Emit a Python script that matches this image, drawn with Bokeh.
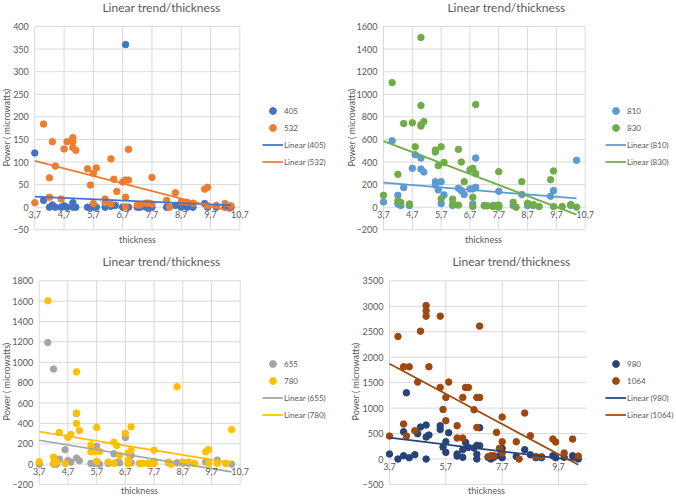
import math
import numpy as np
from bokeh.plotting import figure
from bokeh.layouts import gridplot
from bokeh.models import FixedTicker, CustomJSTickFormatter, Legend, LegendItem, Range1d, Label
from bokeh.embed import file_html
from bokeh.resources import INLINE

FONT = "Lato"
TXT = "#595959"
GRID = "#D9D9D9"

# ---- data ----
x405 = [3.7, 4.0, 4.2, 4.3, 4.4, 4.6, 4.7, 4.8, 5.0, 5.0, 5.1, 5.5, 5.6, 5.7, 5.8, 6.1, 6.3, 6.45, 6.8, 6.7,
        6.9, 7.2, 7.3, 7.5, 7.6, 7.7, 8.2, 8.5, 8.7, 8.9, 9.1, 9.5, 9.6, 9.9, 10.2, 10.4]
y405 = [120, 15, 0, 5, 0, 0, 3, 0, 10, 0, 0, 0, 0, 0, 0, 0, 2, 4, 360, 0,
        0, 0, 0, 0, 0, 0, 0, 4, 0, 0, 0, 8, 0, 0, 0, 0]
x532 = [3.7, 4.0, 4.2, 4.2, 4.3, 4.4, 4.6, 4.7, 4.8, 5.0, 5.0, 5.0, 5.1, 5.5, 5.6, 5.7, 5.7, 5.8, 6.1, 6.1,
        6.3, 6.3, 6.4, 6.5, 6.7, 6.8, 6.9, 6.8, 6.9, 6.8, 7.2, 7.3, 7.5, 7.6, 7.7, 7.7, 8.2, 8.3, 8.5, 8.7,
        8.9, 9.1, 9.5, 9.6, 9.6, 9.9, 10.2, 10.4]
y532 = [10, 184, 65, 22, 145, 91, 18, 129, 145, 154, 145, 132, 126, 85, 49, 75, 8, 87, 18, 10,
        107, 7, 62, 35, 56, 60, 60, 22, 128, 1, 5, 5, 9, 9, 66, 7, 15, 0, 32, 12,
        11, 9, 40, 44, 3, 4, 8, 3]

x810 = [3.7, 4.0, 4.2, 4.2, 4.3, 4.4, 4.6, 4.7, 4.8, 5.0, 5.0, 5.1, 5.5, 5.5, 5.6, 5.7, 5.7, 5.8, 6.1, 6.3,
        6.4, 6.5, 6.7, 6.8, 6.9, 6.9, 6.8, 7.2, 7.5, 7.7, 7.7, 8.2, 8.5, 8.7, 8.9, 9.5, 9.6, 10.2, 10.4]
y810 = [47, 588, 106, 29, 15, 174, 15, 344, 465, 435, 338, 312, 226, 197, 153, 226, 32, 109, 15, 168,
        147, 112, 162, 162, 176, 435, 29, 15, 15, 141, 15, 15, 112, 15, 15, 97, 147, 15, 415]
x830 = [3.7, 4.0, 4.2, 4.2, 4.3, 4.4, 4.6, 4.7, 4.8, 5.0, 5.0, 5.0, 5.0, 5.1, 5.5, 5.5, 5.6, 5.7, 5.7, 5.8,
        6.1, 6.1, 6.3, 6.3, 6.4, 6.5, 6.7, 6.8, 6.8, 6.8, 6.9, 6.9, 7.2, 7.3, 7.5, 7.6, 7.7, 7.7, 7.7, 8.2,
        8.3, 8.5, 8.7, 8.9, 9.1, 9.5, 9.6, 9.6, 9.9, 10.2, 10.4]
y830 = [106, 1103, 291, 56, 41, 741, 29, 747, 535, 1503, 900, 718, 730, 759, 506, 488, 368, 535, 74, 397,
        71, 29, 512, 18, 400, 226, 332, 344, 88, 6, 909, 297, 12, 12, 6, 12, 18, 315, 0, 44,
        0, 226, 35, 24, 6, 244, 321, 6, 6, 24, 0]

x655 = [3.7, 4.0, 4.2, 4.2, 4.3, 4.4, 4.6, 4.7, 4.8, 5.0, 5.0, 5.1, 5.5, 5.6, 5.7, 5.7, 5.8, 6.1, 6.3, 6.4,
        6.5, 6.7, 6.8, 6.9, 6.9, 7.2, 7.5, 7.7, 8.2, 8.5, 8.7, 8.9, 9.1, 9.5, 9.6, 9.9, 10.2, 10.4]
y655 = [0, 1194, 933, 0, 0, 49, 141, 36, 20, 59, 497, 33, 7, 7, 173, 13, 0, 7, 101, 16,
        13, 262, 13, 85, 13, 7, 7, 26, 13, 13, 7, 7, 7, 20, 20, 39, 7, 0]
x780 = [3.7, 4.0, 4.2, 4.2, 4.3, 4.4, 4.6, 4.7, 4.8, 5.0, 5.0, 5.0, 5.1, 5.5, 5.5, 5.6, 5.7, 5.7, 5.8, 6.1,
        6.3, 6.3, 6.4, 6.5, 6.7, 6.8, 6.8, 6.8, 6.9, 6.9, 7.2, 7.3, 7.5, 7.6, 7.7, 7.7, 8.2, 8.3, 8.5, 8.7,
        8.9, 9.1, 9.5, 9.6, 9.6, 9.9, 10.2, 10.4]
y780 = [23, 1603, 69, 7, 20, 311, 7, 262, 291, 906, 501, 399, 330, 187, 121, 121, 360, 29, 124, 20,
        216, 7, 183, 85, 304, 105, 36, 7, 366, 137, 7, 7, 7, 7, 137, 7, 20, 0, 759, 20,
        20, 7, 121, 144, 7, 7, 7, 340]

x980 = [3.7, 4.0, 4.2, 4.2, 4.3, 4.4, 4.6, 4.7, 4.8, 5.0, 5.0, 5.0, 5.1, 5.5, 5.5, 5.6, 5.7, 5.7, 5.8, 6.1,
        6.1, 6.3, 6.3, 6.4, 6.5, 6.7, 6.8, 6.8, 6.8, 6.9, 6.9, 7.2, 7.3, 7.4, 7.6, 7.7, 7.7, 8.2, 8.5, 8.7,
        8.9, 9.1, 9.5, 9.6, 9.9, 10.2, 10.4]
y980 = [98, 0, 65, 536, 1301, 26, 85, 497, 628, 667, 432, 0, 471, 654, 582, 235, 340, 131, 517, 98,
        59, 33, 183, 327, 229, 216, 268, 92, 0, 262, 615, 33, 0, 33, 65, 209, 26, 52, 183, 85,
        26, 26, 65, 26, 33, 65, 0]
x1064 = [3.7, 4.0, 4.2, 4.2, 4.3, 4.4, 4.6, 4.7, 4.8, 5.0, 5.0, 5.0, 5.1, 5.5, 5.5, 5.6, 5.7, 5.7, 5.8, 6.1,
         6.1, 6.3, 6.3, 6.4, 6.5, 6.7, 6.8, 6.8, 6.9, 6.9, 7.2, 7.3, 7.4, 7.5, 7.6, 7.7, 7.7, 7.7, 8.2, 8.3,
         8.5, 8.7, 8.9, 9.1, 9.5, 9.6, 9.9, 10.2, 10.4]
y1064 = [451, 2407, 687, 1812, 451, 1812, 556, 1511, 2511, 3015, 2910, 2806, 1812, 2806, 1406, 974, 1210, 752, 1511, 654,
         412, 1210, 412, 1406, 1406, 968, 1210, 621, 2610, 1210, 46, 65, 65, 523, 209, 824, 340, 118, 340, 0,
         903, 458, 46, 46, 392, 333, 118, 392, 59]

x_ticks = [3.7, 4.7, 5.7, 6.7, 7.7, 8.7, 9.7, 10.7]
x_ticks_wide = [3.7, 5.7, 7.7, 9.7]
X0, X1 = 3.7, 10.7
y_ticks1 = [-50, 0, 50, 100, 150, 200, 250, 300, 350, 400]
y_ticks2 = [-200, 0, 200, 400, 600, 800, 1000, 1200, 1400, 1600]
y_ticks3 = [-200, 0, 200, 400, 600, 800, 1000, 1200, 1400, 1600, 1800]
y_ticks4 = [-500, 0, 500, 1000, 1500, 2000, 2500, 3000, 3500]

W, H = 338, 248


def panel(series, y_ticks, xt, box, title_at, ylab_at, xlab_at, leg_at):
    # box: pixel position of x=3.7, x=10.7, top tick and bottom tick inside the panel
    x_lo, x_hi, y_top, y_bot = box
    sx = (x_hi - x_lo) / (X1 - X0)
    sy = (y_bot - y_top) / (y_ticks[-1] - y_ticks[0])
    fx = lambda px: X0 + (px - x_lo) / sx
    fy = lambda py: y_ticks[0] + (y_bot - py) / sy

    p = figure(width=W, height=H, output_backend="svg", toolbar_location=None,
               x_range=Range1d(fx(0), fx(W)), y_range=Range1d(fy(H), fy(0)), min_border=0)
    p.outline_line_color = None
    p.grid.visible = False

    # Excel-like grid, only over the plot area
    p.segment(x0=[X0] * len(y_ticks), y0=y_ticks, x1=[X1] * len(y_ticks), y1=y_ticks,
              line_color=GRID, line_width=1)
    p.segment(x0=xt, y0=[y_ticks[0]] * len(xt), x1=xt, y1=[y_ticks[-1]] * len(xt),
              line_color=GRID, line_width=1)

    p.xaxis.fixed_location = 0
    p.xaxis.ticker = FixedTicker(ticks=xt)
    p.xaxis.formatter = CustomJSTickFormatter(code="return tick.toFixed(1).replace('.', ',')")
    p.xaxis.major_label_standoff = 4
    p.yaxis.fixed_location = X0
    p.yaxis.ticker = FixedTicker(ticks=y_ticks)
    p.yaxis.major_label_standoff = 6
    for ax in (p.xaxis, p.yaxis):
        ax.axis_line_color = None
        ax.major_tick_line_color = None
        ax.minor_tick_line_color = None
        ax.major_tick_out = 0
        ax.major_tick_in = 0
        ax.major_label_text_font = FONT
        ax.major_label_text_font_size = "9px"
        ax.major_label_text_color = TXT

    p.add_layout(Label(x=fx(title_at[0]), y=fy(title_at[1]), text="Linear trend/thickness",
                       text_font=FONT, text_font_size="12px", text_font_style="normal", text_color=TXT,
                       text_align="center", text_baseline="middle"))
    p.add_layout(Label(x=fx(ylab_at[0]), y=fy(ylab_at[1]), text="Power ( microwatts)", angle=math.pi / 2,
                       text_font=FONT, text_font_size="9px", text_font_style="normal", text_color=TXT,
                       text_align="center", text_baseline="middle"))
    p.add_layout(Label(x=fx(xlab_at[0]), y=fy(xlab_at[1]), text="thickness",
                       text_font=FONT, text_font_size="9px", text_font_style="normal", text_color=TXT,
                       text_align="center", text_baseline="middle"))

    dots, lines = [], []
    for name, xs, ys, color in series:
        dots.append((name, p.scatter(xs, ys, size=6.5, color=color)))
    for name, xs, ys, color in series:
        k, b = np.polyfit(xs, ys, 1)
        xe = [min(xs), max(xs)]
        lines.append(("Linear (%s)" % name, p.line(xe, [k * v + b for v in xe], line_width=1.75, color=color)))

    legend = Legend(items=[LegendItem(label=n, renderers=[r]) for n, r in dots + lines],
                    location=(leg_at[0], H - leg_at[1]), border_line_color=None, background_fill_alpha=0,
                    padding=0, margin=0, spacing=0, glyph_height=17, label_height=17, glyph_width=21,
                    label_standoff=1, label_text_font=FONT, label_text_font_size="8px",
                    label_text_color=TXT)
    p.add_layout(legend)
    return p


p1 = panel([("405", x405, y405, "#4472C4"), ("532", x532, y532, "#ED7D31")], y_ticks1, x_ticks,
           (34.3, 239.3, 26, 229.3), (161, 7), (5.5, 127), (137, 239), (262, 170))
p2 = panel([("810", x810, y810, "#5B9BD5"), ("830", x830, y830, "#70AD47")], y_ticks2, x_ticks,
           (45, 246.7, 26, 229.3), (168, 7), (13, 127), (145, 239), (267, 170))
p3 = panel([("655", x655, y655, "#A5A5A5"), ("780", x780, y780, "#FFC000")], y_ticks3, x_ticks,
           (38.7, 239.7, 32.3, 236), (161, 12.5), (5.5, 133), (139, 242), (262, 175))
p4 = panel([("980", x980, y980, "#264478"), ("1064", x1064, y1064, "#9E480E")], y_ticks4, x_ticks_wide,
           (51, 248.2, 32.3, 236), (173, 12.5), (17, 133), (148, 242), (267, 175))

grid = gridplot([[p1, p2], [p3, p4]], toolbar_location=None)
open("out.html", "w").write(file_html(grid, INLINE))
